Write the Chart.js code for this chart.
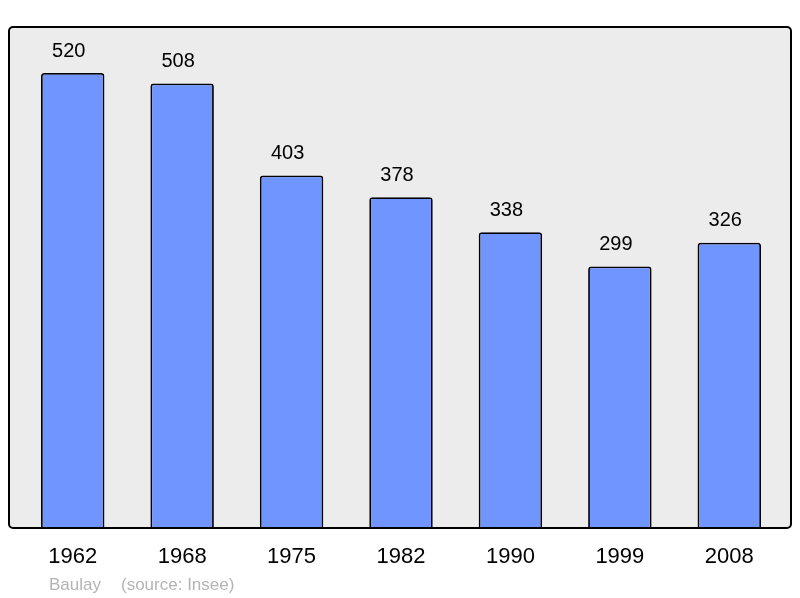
<!DOCTYPE html>
<html>
<head>
<meta charset="utf-8">
<script src="https://cdn.jsdelivr.net/npm/chart.js@4"></script>
<style>
    html, body { margin: 0; padding: 0; background: #ffffff; }
    #wrap { width: 800px; height: 598px; }
</style>
</head>
<body>
<div id="wrap"><canvas id="popChart" width="800" height="598"></canvas></div>
<script>
// Population data
const years = ['1962', '1968', '1975', '1982', '1990', '1999', '2008'];
const population = [520, 508, 403, 378, 338, 299, 326];
const footerName = 'Baulay';
const footerSource = '(source: Insee)';

const FONT = '"Liberation Sans", Arial, sans-serif';

// Grey panel behind the bars, black frame drawn on top
const panelPlugin = {
    id: 'panel',
    beforeDatasetsDraw(chart) {
        const a = chart.chartArea;
        const ctx = chart.ctx;
        ctx.save();
        ctx.beginPath();
        ctx.roundRect(a.left - 9, a.top, a.right - a.left + 16, a.bottom - a.top, 4);
        ctx.fillStyle = '#ececec';
        ctx.fill();
        ctx.restore();
    },
    afterDatasetsDraw(chart) {
        const a = chart.chartArea;
        const ctx = chart.ctx;
        ctx.save();
        ctx.beginPath();
        ctx.roundRect(a.left - 9, a.top, a.right - a.left + 16, a.bottom - a.top, 4);
        ctx.lineWidth = 2;
        ctx.strokeStyle = '#000000';
        ctx.stroke();

        // value labels above bars
        const meta = chart.getDatasetMeta(0);
        ctx.fillStyle = '#000000';
        ctx.font = '20px ' + FONT;
        ctx.textAlign = 'center';
        ctx.textBaseline = 'middle';
        meta.data.forEach((bar, i) => {
            ctx.fillText(String(population[i]), bar.x - 4, bar.y - 22);
        });

        // footer
        ctx.fillStyle = '#b4b4b4';
        ctx.font = '17px ' + FONT;
        ctx.textAlign = 'left';
        ctx.fillText(footerName, 49, 585);
        ctx.fillText(footerSource, 121, 585);
        ctx.restore();
    }
};

new Chart(document.getElementById('popChart'), {
    type: 'bar',
    data: {
        labels: years,
        datasets: [{
            data: population,
            backgroundColor: '#7095ff',
            borderColor: '#000000',
            borderWidth: 1.8,
            borderSkipped: 'bottom',
            borderRadius: { topLeft: 3, topRight: 3 },
            categoryPercentage: 1,
            barPercentage: 0.58
        }]
    },
    options: {
        responsive: false,
        animation: false,
        layout: { padding: { left: 18, right: 16, top: 27, bottom: 0 } },
        plugins: {
            legend: { display: false },
            tooltip: { enabled: false }
        },
        scales: {
            x: {
                grid: { display: false, drawTicks: false },
                border: { display: false },
                ticks: {
                    color: '#000000',
                    font: { family: FONT, size: 22 },
                    padding: 16
                },
                afterFit(scale) { scale.height = 70; }
            },
            y: {
                display: false,
                min: 0,
                max: 572.6
            }
        }
    },
    plugins: [panelPlugin]
});
</script>
</body>
</html>
